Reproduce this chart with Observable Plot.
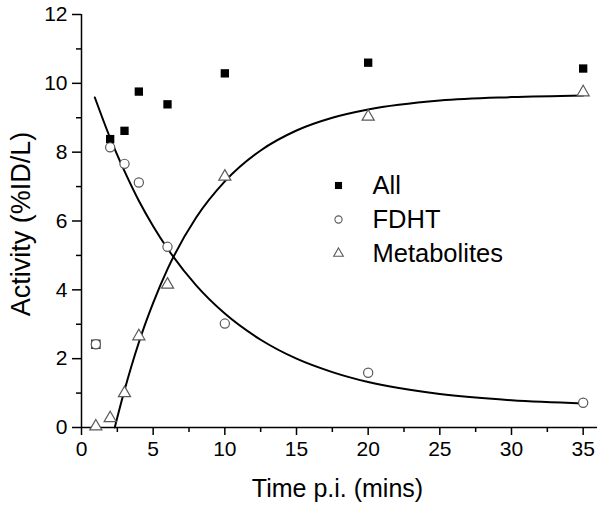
<!DOCTYPE html>
<html>
<head>
<meta charset="utf-8">
<script src="https://cdn.jsdelivr.net/npm/d3@7"></script>
<script src="https://cdn.jsdelivr.net/npm/@observablehq/plot@0.6"></script>
<style>
  html, body { margin: 0; padding: 0; background: #fff; }
  #chart { width: 600px; height: 508px; }
</style>
</head>
<body>
<div id="chart"></div>
<script>
// Measured time points (minutes)
const time = [1, 2, 3, 4, 6, 10, 20, 35];
// Series values (%ID/L)
const allValues = [2.42, 8.38, 8.62, 9.76, 9.39, 10.29, 10.60, 10.43];
const fdhtValues = [2.42, 8.14, 7.66, 7.12, 5.25, 3.02, 1.59, 0.72];
const metaboliteValues = [0.03, 0.27, 1.00, 2.65, 4.15, 7.29, 9.03, 9.74];

// Fitted curves
const fdhtFitT = [0.93, 2, 3, 4, 5, 6, 8, 10, 12.5, 15, 17.5, 20, 25, 30, 35];
const fdhtFitY = [9.59, 8.41, 7.45, 6.59, 5.85, 5.20, 4.13, 3.31, 2.55, 2.00, 1.61, 1.32, 0.97, 0.79, 0.70];
const metFitT = [2.32, 3, 4, 5, 6, 8, 10, 12.5, 15, 17.5, 20, 25, 30, 35];
const metFitY = [0, 1.08, 2.47, 3.62, 4.60, 6.10, 7.15, 8.05, 8.63, 9.00, 9.24, 9.50, 9.60, 9.65];

// Axis ticks
const xMajor = [0, 5, 10, 15, 20, 25, 30, 35];
const xMinor = [2.5, 7.5, 12.5, 17.5, 22.5, 27.5, 32.5];
const yMajor = [0, 2, 4, 6, 8, 10, 12];
const yMinor = [1, 3, 5, 7, 9, 11];

const xTitle = "Time p.i. (mins)";
const yTitle = "Activity (%ID/L)";

const legendLabels = ["All", "FDHT", "Metabolites"];
const legendSymbols = ["square", "circle", "triangle"];

const allData = time.map((t, i) => ({t, v: allValues[i]}));
const fdhtData = time.map((t, i) => ({t, v: fdhtValues[i]}));
const metData = time.map((t, i) => ({t, v: metaboliteValues[i]}));
const fdhtFit = fdhtFitT.map((t, i) => ({t, v: fdhtFitY[i]}));
const metFit = metFitT.map((t, i) => ({t, v: metFitY[i]}));

const gray = "#5a5a5a";
const font = "'Liberation Sans', Arial, sans-serif";

const legendMarks = legendLabels.flatMap((label, i) => {
  const sym = legendSymbols[i];
  const dy = 171 + i * 34;
  return [
    Plot.dot([label], {
      frameAnchor: "top-left", dx: 257, dy,
      symbol: sym, r: sym === "square" ? 4 : 3.6,
      fill: sym === "square" ? "black" : "white",
      stroke: sym === "square" ? "none" : gray, strokeWidth: 1.1
    }),
    Plot.text([label], {
      frameAnchor: "top-left", dx: 291, dy,
      text: d => d, textAnchor: "start", lineAnchor: "middle", fontSize: 25.5, fill: "black"
    })
  ];
});

const chart = Plot.plot({
  width: 600,
  height: 508,
  marginLeft: 81,
  marginRight: 3,
  marginTop: 14,
  marginBottom: 81,
  style: {fontFamily: font, fontSize: "21px", color: "black", background: "white", overflow: "visible"},
  x: {domain: [0, 36]},
  y: {domain: [0, 12]},
  marks: [
    Plot.axisX({ticks: xMajor, tickSize: 8, tickPadding: 6, fontSize: 21, tickFormat: d => d,
      label: null, strokeWidth: 1.5}),
    Plot.axisX({ticks: xMinor, tickSize: 5, text: null, label: null, strokeWidth: 1.5}),
    Plot.axisY({ticks: yMajor, tickSize: 9, tickPadding: 5, fontSize: 21, tickFormat: d => d,
      label: null, strokeWidth: 1.5}),
    Plot.axisY({ticks: yMinor, tickSize: 5, text: null, label: null, strokeWidth: 1.5}),
    Plot.ruleY([0], {stroke: "black", strokeWidth: 1.5}),
    Plot.ruleX([0], {stroke: "black", strokeWidth: 1.5}),
    Plot.text([xTitle], {frameAnchor: "bottom", text: d => d, dx: -2, dy: 61,
      textAnchor: "middle", lineAnchor: "middle", fontSize: 25, fill: "black"}),
    Plot.text([yTitle], {frameAnchor: "left", text: d => d, dx: -60, dy: 3, rotate: -90,
      textAnchor: "middle", lineAnchor: "middle", fontSize: 27, fill: "black"}),
    Plot.line(fdhtFit, {x: "t", y: "v", curve: "monotone-x", stroke: "black", strokeWidth: 2}),
    Plot.line(metFit, {x: "t", y: "v", curve: "monotone-x", stroke: "black", strokeWidth: 2}),
    Plot.dot(allData, {x: "t", y: "v", symbol: "square", r: 4.7,
      fill: d => d.t === 1 ? "white" : "black", stroke: d => d.t === 1 ? "#333" : "none", strokeWidth: 1.2}),
    Plot.dot(fdhtData, {x: "t", y: "v", symbol: "circle", r: 4.6, fill: "white", stroke: gray, strokeWidth: 1.2}),
    Plot.dot(metData, {x: "t", y: "v", symbol: "triangle", r: 4.5, fill: "white", stroke: gray, strokeWidth: 1.2}),
    ...legendMarks
  ]
});

document.getElementById("chart").appendChild(chart);
</script>
</body>
</html>
